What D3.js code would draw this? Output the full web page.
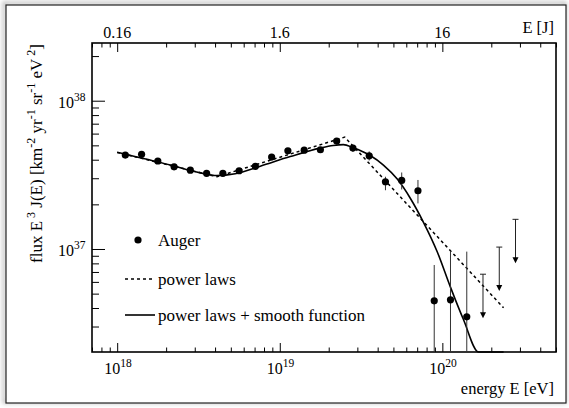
<!DOCTYPE html>
<html>
<head>
<meta charset="utf-8">
<script src="https://cdn.jsdelivr.net/npm/d3@7/dist/d3.min.js"></script>
<style>
  body { margin: 0; background: #fff; }
  svg { display: block; font-family: "Liberation Serif", "DejaVu Serif", serif; }
</style>
</head>
<body>
<svg id="chart" width="569" height="408"></svg>
<script>
// Auger points: energy [eV] and flux E^3 J(E)
const energy = [1.122e18, 1.413e18, 1.778e18, 2.239e18, 2.818e18, 3.548e18, 4.467e18, 5.623e18,
  7.079e18, 8.913e18, 1.122e19, 1.413e19, 1.778e19, 2.239e19, 2.818e19, 3.548e19,
  4.467e19, 5.623e19, 7.079e19, 8.913e19, 1.122e20, 1.413e20];
const flux = [4.30e37, 4.35e37, 3.92e37, 3.58e37, 3.40e37, 3.24e37, 3.24e37, 3.37e37,
  3.61e37, 4.17e37, 4.59e37, 4.64e37, 4.67e37, 5.34e37, 4.79e37, 4.25e37,
  2.84e37, 2.90e37, 2.47e37, 4.47e36, 4.54e36, 3.49e36];
const fluxHi = [4.40e37, 4.45e37, 4.01e37, 3.66e37, 3.48e37, 3.32e37, 3.32e37, 3.46e37,
  3.71e37, 4.29e37, 4.73e37, 4.80e37, 4.85e37, 5.58e37, 5.05e37, 4.55e37,
  3.07e37, 3.28e37, 2.92e37, 7.8e36, 9.6e36, 9.6e36];
const fluxLo = [4.20e37, 4.25e37, 3.83e37, 3.50e37, 3.32e37, 3.16e37, 3.16e37, 3.28e37,
  3.51e37, 4.05e37, 4.45e37, 4.48e37, 4.49e37, 5.10e37, 4.53e37, 3.95e37,
  2.49e37, 2.52e37, 2.03e37, 1e36, 1e36, 1e36];

// upper limits
const limitEnergy = [1.778e20, 2.239e20, 2.818e20];
const limitFlux = [6.76e36, 1.03e37, 1.585e37];

// broken power laws (dashed)
const powerLawEnergy = [1.0e18, 4.11e18, 2.51e19, 2.38e20];
const powerLawFlux = [4.48e37, 3.07e37, 5.68e37, 4.01e36];

// power laws + smooth function (solid)
const smoothEnergy = [1.0e18, 2.12e18, 3.24e18, 4.11e18, 5.32e18, 7.59e18, 1.16e19, 1.77e19,
  2.13e19, 2.46e19, 2.83e19, 3.56e19, 4.34e19, 5.28e19, 6.35e19, 7.64e19,
  9.31e19, 1.12e20, 1.35e20, 1.67e20, 2.0e20, 2.38e20];
const smoothFlux = [4.49e37, 3.68e37, 3.26e37, 3.13e37, 3.22e37, 3.62e37, 4.20e37, 4.79e37,
  4.99e37, 5.06e37, 4.82e37, 4.30e37, 3.68e37, 2.96e37, 2.20e37, 1.52e37,
  9.55e36, 5.55e36, 3.33e36, 2.02e36, 1.2e36, 6e35];

// tick labels
const xMajor = [1e18, 1e19, 1e20];
const xExp = ["18", "19", "20"];
const topLabels = ["0.16", "1.6", "16"];
const yMajor = [1e37, 1e38];
const yExp = ["37", "38"];

const svg = d3.select("#chart");
const margin = { top: 43, right: 13, bottom: 56, left: 92 };
const W = 569, H = 408;
const iw = W - margin.left - margin.right;
const ih = H - margin.top - margin.bottom;

// outer canvas frame with soft shadow
const defs = svg.append("defs");
const f = defs.append("filter").attr("id", "shadow")
  .attr("x", "-5%").attr("y", "-5%").attr("width", "110%").attr("height", "110%");
f.append("feGaussianBlur").attr("stdDeviation", 2);
svg.append("rect")
  .attr("x", 4).attr("y", 3).attr("width", 561).attr("height", 399)
  .attr("fill", "none").attr("stroke", "#bbb").attr("stroke-width", 3)
  .attr("filter", "url(#shadow)");
svg.append("rect")
  .attr("x", 6).attr("y", 5).attr("width", 560).attr("height", 398)
  .attr("fill", "#fff").attr("stroke", "#222").attr("stroke-width", 1.2);

const x = d3.scaleLog().domain([7e17, 5e20]).range([0, iw]);
const y = d3.scaleLog().domain([2.02e36, 2.45e38]).range([ih, 0]).clamp(true);

const g = svg.append("g").attr("transform", `translate(${margin.left},${margin.top})`);

// ticks (all inside the frame)
const isMajor = v => Math.abs(Math.log10(v) - Math.round(Math.log10(v))) < 1e-9;
const xMinor = x.ticks().filter(v => !isMajor(v));
const yMinor = y.ticks().filter(v => !isMajor(v));

function drawAxis(axis, transform) {
  const a = g.append("g").attr("transform", transform).call(axis);
  a.select(".domain").remove();
  a.selectAll(".tick line").attr("stroke", "#000").attr("stroke-width", 1);
  a.selectAll(".tick text").remove();
}
drawAxis(d3.axisBottom(x).tickValues(xMajor).tickSizeInner(-9).tickSizeOuter(0), `translate(0,${ih})`);
drawAxis(d3.axisBottom(x).tickValues(xMinor).tickSizeInner(-4.5).tickSizeOuter(0), `translate(0,${ih})`);
drawAxis(d3.axisTop(x).tickValues(xMajor).tickSizeInner(-9).tickSizeOuter(0), "translate(0,0)");
drawAxis(d3.axisTop(x).tickValues(xMinor).tickSizeInner(-4.5).tickSizeOuter(0), "translate(0,0)");
drawAxis(d3.axisLeft(y).tickValues(yMajor).tickSizeInner(-13).tickSizeOuter(0), "translate(0,0)");
drawAxis(d3.axisLeft(y).tickValues(yMinor).tickSizeInner(-7).tickSizeOuter(0), "translate(0,0)");

// plot frame
g.append("rect").attr("width", iw).attr("height", ih)
  .attr("fill", "none").attr("stroke", "#000").attr("stroke-width", 1.6);

// bottom tick labels 10^n
xMajor.forEach((v, i) => {
  const t = g.append("text").attr("x", x(v) - 13).attr("y", ih + 22)
    .attr("font-size", 16).attr("fill", "#000");
  t.append("tspan").text("10");
  t.append("tspan").attr("dy", -7).attr("font-size", 11.5).text(xExp[i]);
});
// top tick labels in joules
xMajor.forEach((v, i) => {
  g.append("text").attr("x", x(v)).attr("y", -5)
    .attr("text-anchor", "middle").attr("font-size", 16).text(topLabels[i]);
});
// left tick labels
yMajor.forEach((v, i) => {
  const t = g.append("text").attr("x", -34).attr("y", y(v) + 7)
    .attr("font-size", 16);
  t.append("tspan").text("10");
  t.append("tspan").attr("dy", -7).attr("font-size", 11.5).text(yExp[i]);
});

// axis titles
g.append("text").attr("x", iw - 2).attr("y", ih + 42)
  .attr("text-anchor", "end").attr("font-size", 16.5).text("energy E [eV]");
g.append("text").attr("x", iw - 2).attr("y", -10)
  .attr("text-anchor", "end").attr("font-size", 16.5).text("E [J]");

const yl = svg.append("text")
  .attr("transform", "translate(42,44) rotate(-90)")
  .attr("text-anchor", "end").attr("font-size", 17);
const parts = [["flux E", 0], [" 3", 1], [" J(E) [km", 0], ["-2", 1], [" yr", 0], ["-1", 1],
  [" sr", 0], ["-1", 1], [" eV", 0], [" 2", 1], ["]", 0]];
parts.forEach(([s, sup]) => {
  yl.append("tspan")
    .attr("font-size", sup ? 12 : 17)
    .attr("baseline-shift", sup ? "55%" : null)
    .text(s);
});

// curves
const line = d3.line().x(d => x(d[0])).y(d => y(d[1]));
g.append("path")
  .datum(powerLawEnergy.map((e, i) => [e, powerLawFlux[i]]))
  .attr("d", line)
  .attr("fill", "none").attr("stroke", "#000").attr("stroke-width", 1.5)
  .attr("stroke-dasharray", "3,3");
g.append("path")
  .datum(smoothEnergy.map((e, i) => [e, smoothFlux[i]]))
  .attr("d", line.curve(d3.curveMonotoneX))
  .attr("fill", "none").attr("stroke", "#000").attr("stroke-width", 1.6);

// error bars
energy.forEach((e, i) => {
  g.append("line")
    .attr("x1", x(e)).attr("x2", x(e))
    .attr("y1", y(fluxLo[i])).attr("y2", y(fluxHi[i]))
    .attr("stroke", "#333").attr("stroke-width", 1);
});

// data points
g.selectAll(".pt")
  .data(energy.map((e, i) => [e, flux[i]]))
  .enter()
  .append("circle")
  .attr("class", "pt")
  .attr("cx", d => x(d[0]))
  .attr("cy", d => y(d[1]))
  .attr("r", 3.6)
  .attr("fill", "#000");

// upper limits with arrows
const arrowLen = 44;
limitEnergy.forEach((e, i) => {
  const cx = x(e), top = y(limitFlux[i]), tip = top + arrowLen;
  g.append("line").attr("x1", cx - 3).attr("x2", cx + 3).attr("y1", top).attr("y2", top)
    .attr("stroke", "#222").attr("stroke-width", 1);
  g.append("line").attr("x1", cx).attr("x2", cx).attr("y1", top).attr("y2", tip - 5)
    .attr("stroke", "#222").attr("stroke-width", 1);
  g.append("path")
    .attr("d", `M${cx - 3},${tip - 6}L${cx + 3},${tip - 6}L${cx},${tip}Z`)
    .attr("fill", "#000");
});

// legend
const lg = g.append("g").attr("font-size", 17);
lg.append("circle").attr("cx", 46).attr("cy", 197).attr("r", 3.6).attr("fill", "#000");
lg.append("text").attr("x", 66).attr("y", 203).text("Auger");
lg.append("line").attr("x1", 33).attr("x2", 63).attr("y1", 236).attr("y2", 236)
  .attr("stroke", "#000").attr("stroke-width", 1.5).attr("stroke-dasharray", "3,3");
lg.append("text").attr("x", 66).attr("y", 242).text("power laws");
lg.append("line").attr("x1", 33).attr("x2", 63).attr("y1", 272).attr("y2", 272)
  .attr("stroke", "#000").attr("stroke-width", 1.6);
lg.append("text").attr("x", 66).attr("y", 278).text("power laws + smooth function");
</script>
</body>
</html>
